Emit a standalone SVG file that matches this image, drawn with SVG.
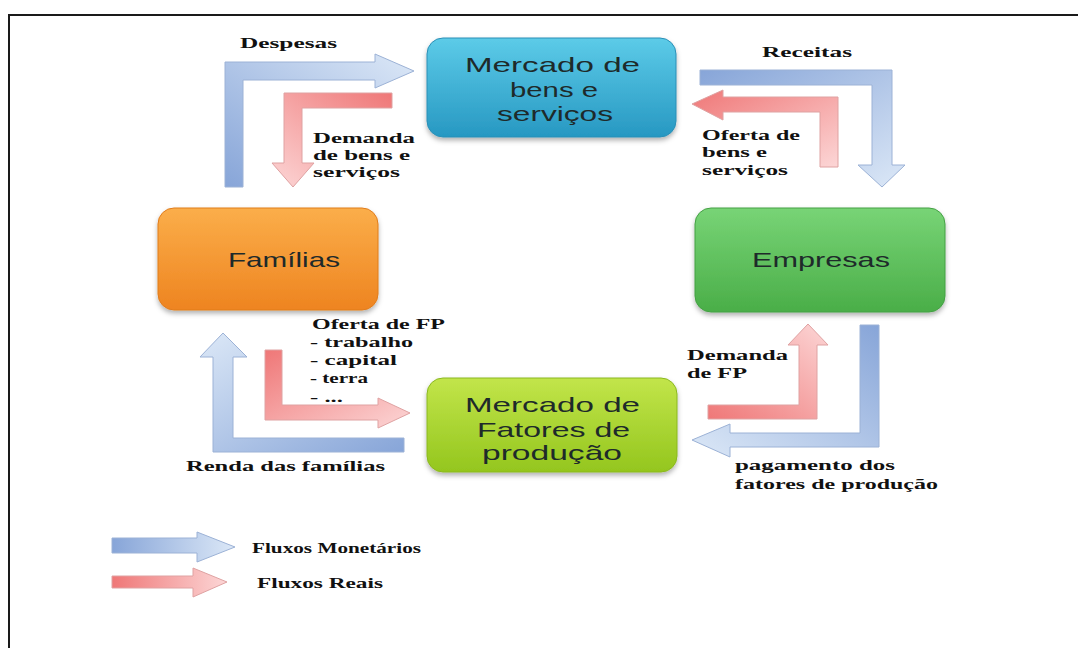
<svg xmlns="http://www.w3.org/2000/svg" width="1078" height="648" viewBox="0 0 1078 648">
<style>
.lbl{font-family:"Liberation Serif","Times New Roman",serif;font-weight:bold;font-size:15px;fill:#111}
.box{font-family:"Liberation Sans",Arial,sans-serif;font-size:21px;fill:#1e2a2a}
.ab{stroke:#9cb2d6;stroke-width:1}
.ar{stroke:#dfa2a2;stroke-width:1}
</style>
<defs>
<filter id="sh" x="-10%" y="-10%" width="120%" height="130%"><feDropShadow dx="0" dy="3" stdDeviation="2.5" flood-color="#000" flood-opacity="0.3"/></filter>
<linearGradient id="gBlue" x1="0" y1="0" x2="0" y2="1"><stop offset="0" stop-color="#5ccbe8"/><stop offset="1" stop-color="#2798c2"/></linearGradient>
<linearGradient id="gOrange" x1="0" y1="0" x2="0" y2="1"><stop offset="0" stop-color="#fbae4a"/><stop offset="1" stop-color="#ee8420"/></linearGradient>
<linearGradient id="gGreen" x1="0" y1="0" x2="0" y2="1"><stop offset="0" stop-color="#78d476"/><stop offset="1" stop-color="#4aae48"/></linearGradient>
<linearGradient id="gLime" x1="0" y1="0" x2="0" y2="1"><stop offset="0" stop-color="#c2e54a"/><stop offset="1" stop-color="#94c61e"/></linearGradient>
<linearGradient id="bUR" x1="0" y1="1" x2="1" y2="0"><stop offset="0" stop-color="#87a5d8"/><stop offset="1" stop-color="#dce8f7"/></linearGradient>
<linearGradient id="bRD" x1="0" y1="0" x2="1" y2="1"><stop offset="0" stop-color="#87a5d8"/><stop offset="1" stop-color="#dce8f7"/></linearGradient>
<linearGradient id="bDL" x1="1" y1="0" x2="0" y2="1"><stop offset="0" stop-color="#87a5d8"/><stop offset="1" stop-color="#dce8f7"/></linearGradient>
<linearGradient id="bRU" x1="1" y1="1" x2="0" y2="0"><stop offset="0" stop-color="#87a5d8"/><stop offset="1" stop-color="#dce8f7"/></linearGradient>
<linearGradient id="bH" x1="0" y1="0" x2="1" y2="0"><stop offset="0" stop-color="#87a5d8"/><stop offset="1" stop-color="#dce8f7"/></linearGradient>
<linearGradient id="rRD" x1="1" y1="0" x2="0" y2="1"><stop offset="0" stop-color="#ef7777"/><stop offset="1" stop-color="#fcd6d6"/></linearGradient>
<linearGradient id="rDL" x1="1" y1="1" x2="0" y2="0"><stop offset="0" stop-color="#ef7777"/><stop offset="1" stop-color="#fcd6d6"/></linearGradient>
<linearGradient id="rLU" x1="0" y1="1" x2="1" y2="0"><stop offset="0" stop-color="#ef7777"/><stop offset="1" stop-color="#fcd6d6"/></linearGradient>
<linearGradient id="rUR" x1="0" y1="0" x2="1" y2="1"><stop offset="0" stop-color="#ef7777"/><stop offset="1" stop-color="#fcd6d6"/></linearGradient>
<linearGradient id="rH" x1="0" y1="0" x2="1" y2="0"><stop offset="0" stop-color="#ef7777"/><stop offset="1" stop-color="#fcd6d6"/></linearGradient>
</defs>
<rect x="0" y="0" width="1078" height="648" fill="#fff"/>
<rect x="9" y="15" width="1080" height="650" fill="none" stroke="#1a1a1a" stroke-width="2"/>

<g id="connectors">
<path class="ab" fill="url(#bUR)" d="M225,187 L225,62 L375,62 L375,54 L414,71 L375,88 L375,80 L243,80 L243,187 Z"/>
<path class="ar" fill="url(#rRD)" d="M392,93 L284,93 L284,163 L272,163 L293,187 L314,163 L302,163 L302,108 L392,108 Z"/>
<path class="ab" fill="url(#bRD)" d="M700,70 L892,70 L892,165 L905,165 L882,187 L858,165 L872,165 L872,85 L700,85 Z"/>
<path class="ar" fill="url(#rUR)" d="M838,167 L838,97 L723,97 L723,90 L692,104 L723,120 L723,112 L820,112 L820,167 Z"/>
<path class="ar" fill="url(#rLU)" d="M708,405 L799,405 L799,345 L788,345 L808,324 L828,345 L817,345 L817,419 L708,419 Z"/>
<path class="ab" fill="url(#bDL)" d="M860,325 L879,325 L879,447 L730,447 L730,457 L692,440 L730,424 L730,433 L860,433 Z"/>
<path class="ab" fill="url(#bRU)" d="M404,438 L233,438 L233,357 L247,357 L223,333 L200,357 L213,357 L213,452 L404,452 Z"/>
<path class="ar" fill="url(#rUR)" d="M265,350 L282,350 L282,405 L378,405 L378,398 L410,413 L378,428 L378,420 L265,420 Z"/>
</g>

<g id="mercado-bens">
<rect x="427" y="38" width="249" height="99" rx="16" fill="url(#gBlue)" stroke="#2a8fb6" stroke-width="1" filter="url(#sh)"/>
<text class="box" x="465" y="72" textLength="175" lengthAdjust="spacingAndGlyphs">Mercado de</text>
<text class="box" x="510" y="97" textLength="88" lengthAdjust="spacingAndGlyphs">bens e</text>
<text class="box" x="497" y="121" textLength="116" lengthAdjust="spacingAndGlyphs">serviços</text>
</g>
<g id="familias">
<rect x="158" y="208" width="220" height="102" rx="16" fill="url(#gOrange)" stroke="#e07c1c" stroke-width="1" filter="url(#sh)"/>
<text class="box" x="228" y="267" textLength="112" lengthAdjust="spacingAndGlyphs">Famílias</text>
</g>
<g id="empresas">
<rect x="695" y="208" width="250" height="104" rx="16" fill="url(#gGreen)" stroke="#44a044" stroke-width="1" filter="url(#sh)"/>
<text class="box" x="752" y="267" textLength="138" lengthAdjust="spacingAndGlyphs">Empresas</text>
</g>
<g id="mercado-fatores">
<rect x="427" y="378" width="250" height="94" rx="16" fill="url(#gLime)" stroke="#8ab81e" stroke-width="1" filter="url(#sh)"/>
<text class="box" x="465" y="412" textLength="175" lengthAdjust="spacingAndGlyphs">Mercado de</text>
<text class="box" x="477" y="437" textLength="153" lengthAdjust="spacingAndGlyphs">Fatores de</text>
<text class="box" x="482" y="460" textLength="140" lengthAdjust="spacingAndGlyphs">produção</text>
</g>

<g id="labels">
<text class="lbl" x="240" y="48" textLength="97" lengthAdjust="spacingAndGlyphs">Despesas</text>
<text class="lbl" x="313" y="143" textLength="102" lengthAdjust="spacingAndGlyphs">Demanda</text>
<text class="lbl" x="313" y="160" textLength="97" lengthAdjust="spacingAndGlyphs">de bens e</text>
<text class="lbl" x="313" y="177" textLength="87" lengthAdjust="spacingAndGlyphs">serviços</text>
<text class="lbl" x="762" y="57" textLength="90" lengthAdjust="spacingAndGlyphs">Receitas</text>
<text class="lbl" x="702" y="140" textLength="98" lengthAdjust="spacingAndGlyphs">Oferta de</text>
<text class="lbl" x="702" y="157" textLength="65" lengthAdjust="spacingAndGlyphs">bens e</text>
<text class="lbl" x="702" y="175" textLength="86" lengthAdjust="spacingAndGlyphs">serviços</text>
<text class="lbl" x="312" y="329" textLength="133" lengthAdjust="spacingAndGlyphs">Oferta de FP</text>
<text class="lbl" x="310" y="347" textLength="103" lengthAdjust="spacingAndGlyphs">- trabalho</text>
<text class="lbl" x="310" y="365" textLength="87" lengthAdjust="spacingAndGlyphs">- capital</text>
<text class="lbl" x="310" y="383" textLength="58" lengthAdjust="spacingAndGlyphs">- terra</text>
<text class="lbl" x="310" y="402" textLength="33" lengthAdjust="spacingAndGlyphs">- ...</text>
<text class="lbl" x="186" y="471" textLength="199" lengthAdjust="spacingAndGlyphs">Renda das famílias</text>
<text class="lbl" x="687" y="360" textLength="101" lengthAdjust="spacingAndGlyphs">Demanda</text>
<text class="lbl" x="687" y="378" textLength="60" lengthAdjust="spacingAndGlyphs">de FP</text>
<text class="lbl" x="735" y="470" textLength="160" lengthAdjust="spacingAndGlyphs">pagamento dos</text>
<text class="lbl" x="735" y="489" textLength="203" lengthAdjust="spacingAndGlyphs">fatores de produção</text>
</g>

<g id="legend">
<path class="ab" fill="url(#bH)" d="M112,538 L197,538 L197,532 L235,547 L197,562 L197,553 L112,553 Z"/>
<text class="lbl" x="252" y="553" textLength="169" lengthAdjust="spacingAndGlyphs">Fluxos Monetários</text>
<path class="ar" fill="url(#rH)" d="M112,576 L193,576 L193,568 L227,582 L193,597 L193,588 L112,588 Z"/>
<text class="lbl" x="257" y="588" textLength="126" lengthAdjust="spacingAndGlyphs">Fluxos Reais</text>
</g>
</svg>
